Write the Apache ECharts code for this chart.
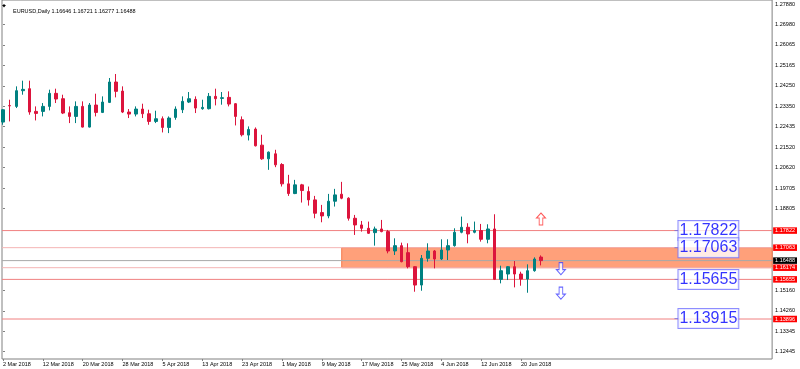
<!DOCTYPE html>
<html><head><meta charset="utf-8">
<script src="https://cdn.jsdelivr.net/npm/echarts@6/dist/echarts.min.js"></script>
<style>html,body{margin:0;padding:0;background:#fff}#c{width:800px;height:369px}</style>
</head><body><div id="c"></div>
<script>
// ---- data ----
const titleText = 'EURUSD,Daily 1.16646 1.16721 1.16277 1.16488';
const dateLabels = ['2 Mar 2018','12 Mar 2018','20 Mar 2018','28 Mar 2018','5 Apr 2018','13 Apr 2018','23 Apr 2018','1 May 2018','9 May 2018','17 May 2018','25 May 2018','4 Jun 2018','12 Jun 2018','20 Jun 2018'];
const dateBarIndex = [0,6,12,18,24,30,36,42,48,54,60,66,72,78];
const yTickValues = [1.27880,1.26980,1.26065,1.25165,1.24250,1.23350,1.22435,1.21520,1.20620,1.19705,1.18805,1.15160,1.14260,1.13345,1.12445];

const openP = [1.22640,1.23372,1.23336,1.24033,1.24122,1.23114,1.23114,1.23336,1.23915,1.23677,
1.23055,1.22891,1.23336,1.22417,1.23396,1.23069,1.23514,1.24419,1.24015,1.23085,
1.22995,1.23218,1.23010,1.22669,1.22788,1.22402,1.22847,1.23188,1.23529,1.23648,
1.23233,1.23233,1.23781,1.23692,1.23737,1.23455,1.22743,1.22061,1.22328,1.21616,
1.21008,1.21231,1.20756,1.19896,1.19466,1.19852,1.19555,1.19185,1.18621,1.18473,
1.19125,1.19437,1.19259,1.18369,1.18072,1.17924,1.17731,1.17894,1.17776,1.16916,
1.17153,1.16842,1.16219,1.15403,1.16590,1.16916,1.16560,1.16960,1.17153,1.17747,
1.17969,1.17747,1.17820,1.17435,1.17894,1.15656,1.15893,1.16219,1.15893,1.15670,
1.16041,1.16646];
const closeP = [1.23188,1.23360,1.24033,1.24093,1.23085,1.23025,1.23336,1.23915,1.23663,1.23040,
1.22891,1.23336,1.22417,1.23396,1.23069,1.23529,1.24419,1.24004,1.23085,1.22995,
1.23218,1.23010,1.22669,1.22788,1.22402,1.22818,1.23218,1.23559,1.23677,1.23262,
1.23292,1.23781,1.23677,1.23722,1.23440,1.22891,1.22076,1.22313,1.21587,1.21008,
1.21305,1.20741,1.19896,1.19466,1.19852,1.19600,1.19185,1.18592,1.18473,1.19125,
1.19407,1.19259,1.18369,1.18072,1.17924,1.17702,1.17894,1.17776,1.16916,1.17153,
1.16441,1.16219,1.15403,1.16590,1.16916,1.16560,1.16960,1.17153,1.17747,1.17969,
1.17672,1.17820,1.17435,1.17894,1.15656,1.16041,1.16219,1.15893,1.15670,1.16041,
1.16560,1.16488];
const lowP = [1.22521,1.22669,1.23262,1.23855,1.22966,1.22713,1.22891,1.23158,1.23485,1.22995,
1.22595,1.22595,1.22400,1.22400,1.22891,1.23040,1.23485,1.23737,1.23040,1.22818,
1.22891,1.22818,1.22521,1.22595,1.22180,1.22150,1.22743,1.23040,1.23485,1.23040,
1.23188,1.23200,1.23381,1.23411,1.23336,1.22491,1.22002,1.21824,1.21557,1.20964,
1.20519,1.20638,1.19778,1.19362,1.19440,1.19066,1.18932,1.18369,1.18191,1.18369,
1.18888,1.19214,1.18265,1.17628,1.17776,1.17672,1.17153,1.17747,1.16812,1.16738,
1.16412,1.16145,1.15107,1.15151,1.16441,1.16145,1.16515,1.16515,1.17108,1.17702,
1.17257,1.17702,1.17331,1.17257,1.15626,1.15478,1.15626,1.15300,1.15374,1.15062,
1.15996,1.16277];
const highP = [1.23218,1.23633,1.24226,1.24478,1.24478,1.23336,1.23485,1.24078,1.24122,1.23855,
1.23336,1.23559,1.23559,1.23485,1.23900,1.23781,1.24597,1.24775,1.24226,1.23218,
1.23336,1.23455,1.23188,1.23144,1.22891,1.22891,1.23336,1.23781,1.23974,1.23781,
1.23633,1.23930,1.24122,1.23974,1.24004,1.23485,1.22891,1.22447,1.22402,1.22076,
1.21335,1.21409,1.20816,1.20297,1.20074,1.19896,1.19778,1.19362,1.18962,1.19451,
1.19674,1.19985,1.19303,1.18517,1.18250,1.18221,1.17998,1.18295,1.17850,1.17479,
1.17286,1.17257,1.16240,1.16738,1.17257,1.16960,1.17435,1.17435,1.17924,1.18443,
1.18147,1.18221,1.18117,1.18102,1.18547,1.16263,1.16249,1.16471,1.15996,1.16323,
1.16634,1.16721];

const levelValues = [1.17822,1.17063,1.16488,1.16174,1.15655,1.13896];
const levelTags = ['1.17822','1.17063','1.16488','1.16174','1.15655','1.13896'];
const zoneTop = 1.17063, zoneBottom = 1.16174, zoneStartBar = 51;
const boxValues = [1.17822,1.17063,1.15655,1.13915];
const boxTexts = ['1.17822','1.17063','1.15655','1.13915'];
const arrowUp = [[81,1.18336]];
const arrowDown = [[84,1.16132],[84,1.15042]];

// ---- styles / layout ----
const levelStyle = [
  {line:'#f08080', tag:'#ff0000'},
  {line:'#f4b4b4', tag:'#ff0000'},
  {line:'#a8a8a8', tag:'#000000'},
  {line:'#f4b4b4', tag:'#ff0000'},
  {line:'#f08080', tag:'#ff0000'},
  {line:'#f08080', tag:'#ff0000'}
];
const xMin = -0.15, xMax = 115.8, tagX = 101.7, yMin = 1.1212, yMax = 1.2806;
const tiny = {fontSize:5.5, fontFamily:'Liberation Sans', color:'#000'};

const tagRich = {};
levelStyle.forEach((s,i)=>{ tagRich['t'+i] = {backgroundColor:s.tag, color:'#fff', fontSize:5.5,
  fontFamily:'Liberation Sans', padding:[0.5,2,0,2], lineHeight:5.5}; });

const levelSeries = levelValues.map((v,i)=>({
  type:'line', z:2, silent:true, symbol:'none', animation:false,
  data:[[xMin,v],[xMax,v]], lineStyle:{color:levelStyle[i].line, width:1}
}));

const chart = echarts.init(document.getElementById('c'), null, {renderer:'canvas'});
chart.setOption({
  animation:false,
  title:{text:titleText, left:8, top:3, textStyle:{fontSize:5.5, fontWeight:'normal', color:'#000', fontFamily:'Liberation Sans'}},
  graphic:[{type:'polygon', shape:{points:[[2,5],[6,5],[4,7.5]]}, style:{fill:'#000'}}],
  grid:{left:1, right:26, top:0, bottom:10, show:true, borderColor:'#808080', borderWidth:1, backgroundColor:'transparent'},
  xAxis:{type:'value', min:xMin, max:xMax, axisLine:{show:false}, splitLine:{show:false},
    axisTick:{show:true, customValues:dateBarIndex, length:2, lineStyle:{color:'#808080'}},
    axisLabel:Object.assign({customValues:dateBarIndex, align:'left', margin:2,
      formatter:v=>dateLabels[dateBarIndex.indexOf(Math.round(v))]}, tiny)},
  yAxis:[
    {type:'value', position:'right', min:yMin, max:yMax, axisLine:{show:false}, splitLine:{show:false},
      axisTick:{show:true, customValues:yTickValues, length:2, lineStyle:{color:'#808080'}},
      axisLabel:Object.assign({customValues:yTickValues, margin:3, formatter:v=>v.toFixed(5)}, tiny)},
    {type:'value', position:'right', min:yMin, max:yMax, axisLine:{show:false}, splitLine:{show:false},
      axisTick:{show:false},
      axisLabel:{customValues:levelValues, margin:1, rich:tagRich,
        formatter:v=>{ const i = levelValues.findIndex(x=>Math.abs(x-v)<1e-7); return i<0 ? '' : '{t'+i+'|'+levelTags[i]+'}'; }}}
  ],
  series:[
    {type:'line', data:[], z:1, silent:true,
      markArea:{silent:true, itemStyle:{color:'#ffa07a', borderColor:'#f4784a', borderWidth:1},
        data:[[{xAxis:zoneStartBar, yAxis:zoneTop},{xAxis:xMax, yAxis:zoneBottom}]]}},
    ...levelSeries,
    {type:'candlestick', z:3, barWidth:3,
      data:openP.map((o,i)=>[i,o,closeP[i],lowP[i],highP[i]]),
      itemStyle:{color:'#008080', color0:'#dc143c', borderColor:'#008080', borderColor0:'#dc143c', borderWidth:1}},
    {type:'scatter', z:4, data:arrowUp, symbol:'path://M5,0 L10,5 L7,5 L7,12 L3,12 L3,5 L0,5 Z', symbolSize:[9,12],
      itemStyle:{color:'#fff', borderColor:'#ff3030', borderWidth:1}},
    {type:'scatter', z:4, data:arrowDown, symbol:'path://M3,0 L7,0 L7,7 L10,7 L5,12 L0,7 L3,7 Z', symbolSize:[9,12],
      itemStyle:{color:'#fff', borderColor:'#4040ff', borderWidth:1}},
    {type:'scatter', z:5, data:boxValues.map(v=>[tagX,v]), symbol:'rect', symbolSize:[4,1], symbolOffset:[-2,0],
      itemStyle:{color:'#7070e0'},
      label:{show:true, position:'right', distance:0, formatter:p=>boxTexts[p.dataIndex],
        fontSize:16, fontFamily:'Liberation Sans', color:'#0000ff', backgroundColor:'#fff',
        borderColor:'#7070ff', borderWidth:1, padding:[1,1,0,1], lineHeight:18}}
  ]
});
</script></body></html>
